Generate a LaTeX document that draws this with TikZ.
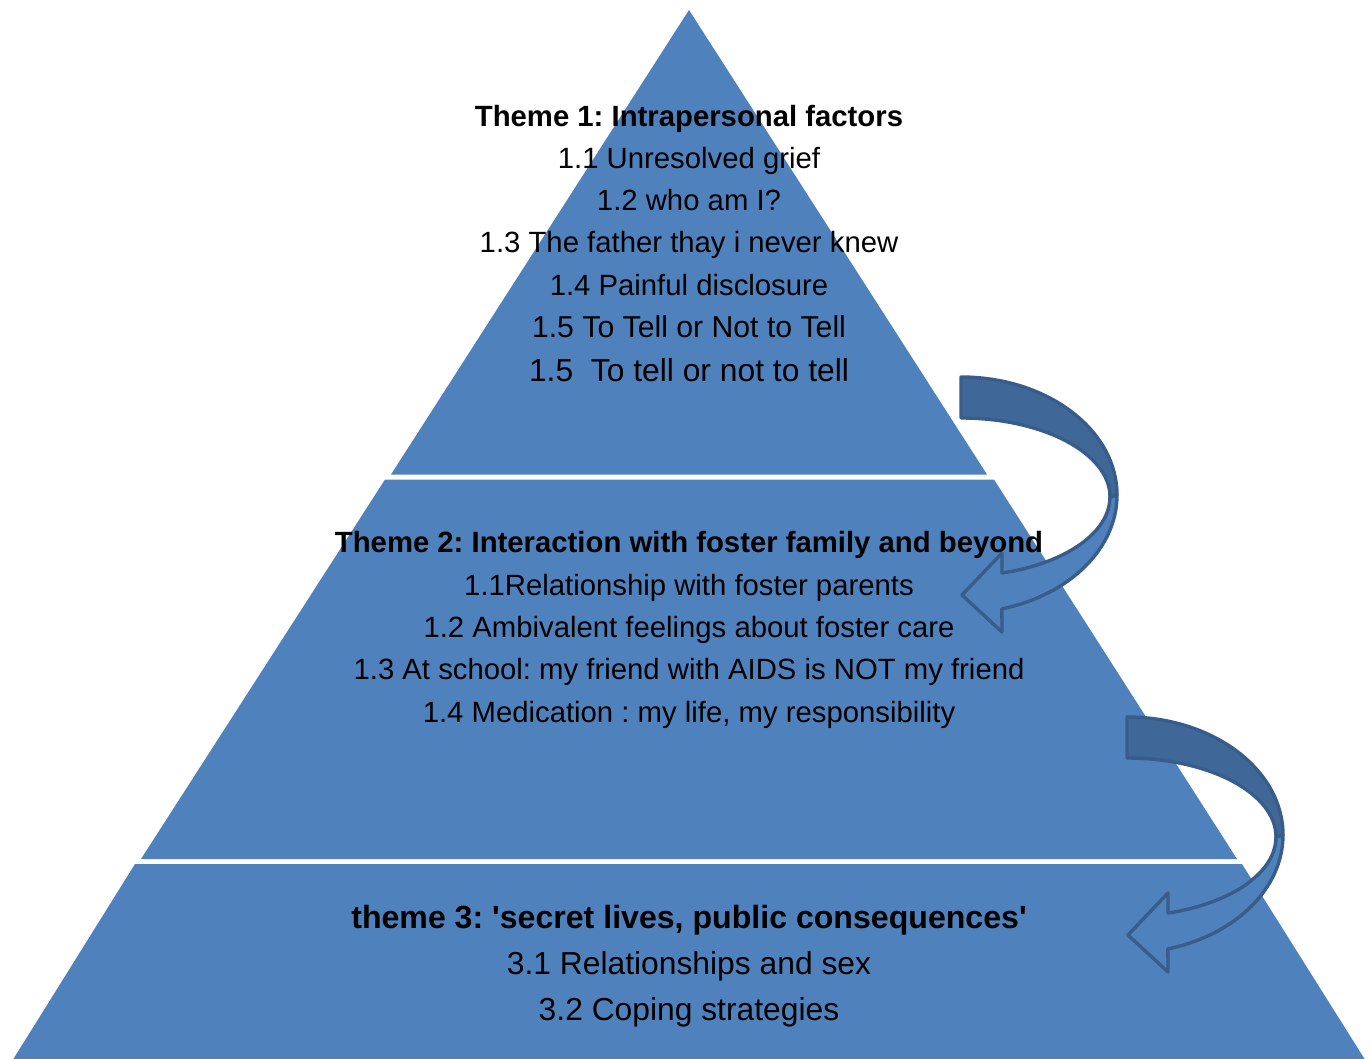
\documentclass[tikz,border=0pt]{standalone}
\usepackage{fontspec}
\setmainfont{Liberation Sans}
\frenchspacing
\definecolor{pyr}{HTML}{4F81BD}
\definecolor{arrdark}{HTML}{3F6797}
\definecolor{arrline}{HTML}{385D8A}
\begin{document}
\begin{tikzpicture}[x=0.5pt,y=-0.5pt,
  lbl/.style={anchor=base, inner sep=0pt, font=\fontsize{14.65pt}{17pt}\selectfont},
  ttl/.style={anchor=base, inner sep=0pt, font=\fontsize{14.65pt}{17pt}\selectfont\bfseries},
  lblm/.style={anchor=base, inner sep=0pt, font=\fontsize{15.1pt}{17pt}\selectfont},
  lblb/.style={anchor=base, inner sep=0pt, font=\fontsize{15.9pt}{18pt}\selectfont},
  ttlb/.style={anchor=base, inner sep=0pt, font=\fontsize{16.05pt}{18pt}\selectfont\bfseries},
  arrowface/.style={draw=arrline, line width=1.7pt, line join=round}]
\useasboundingbox (0,0) rectangle (1371,1059);
% pyramid
\fill[pyr] (689,10) -- (987,474.5) -- (391,474.5) -- cycle;
\fill[pyr] (385,479.5) -- (994,479.5) -- (1237,859) -- (141,859) -- cycle;
\fill[pyr] (135,864) -- (1242,864) -- (1369,1066) -- (9,1066) -- cycle;
% theme 1
\node[ttl] (t1) at (689,126.5) {Theme 1: Intrapersonal factors};
\node[lbl] (t1a) at (689,168.5) {1.1 Unresolved grief};
\node[lbl] (t1b) at (689,210.5) {1.2 who am I?};
\node[lbl] (t1c) at (689,253) {1.3 The father thay i never knew};
\node[lbl] (t1d) at (689,295.5) {1.4 Painful disclosure};
\node[lblm] (t1e) at (689,337.5) {1.5 To Tell or Not to Tell};
\node[lblb] (t1f) at (689,381.5) {1.5\ \ To tell or not to tell};
% theme 2
\node[ttl] (t2) at (689,552.5) {Theme 2: Interaction with foster family and beyond};
\node[lbl] (t2a) at (689,595.5) {1.1Relationship with foster parents};
\node[lbl] (t2b) at (689,637.5) {1.2 Ambivalent feelings about foster care};
\node[lbl] (t2c) at (689,679.5) {1.3 At school: my friend with AIDS is NOT my friend};
\node[lbl] (t2d) at (689,722.5) {1.4 Medication : my life, my responsibility};
% theme 3
\node[ttlb] (t3) at (689,928.5) {theme 3: \textquotesingle secret lives, public consequences\textquotesingle};
\node[lblb] (t3a) at (689,974.5) {3.1 Relationships and sex};
\node[lblb] (t3b) at (689,1020.5) {3.2 Coping strategies};
% curved arrows
\foreach \sx/\sy in {0/0,166/340}{
\begin{scope}[shift={(\sx,\sy)}]
\filldraw[arrowface, fill=arrdark] (961,377)
  arc[start angle=-90, end angle=0, x radius=156, y radius=118]
  -- (1110,497)
  arc[start angle=0, end angle=-90, x radius=149, y radius=79] -- cycle;
\filldraw[arrowface, fill=pyr] (1117,495)
  arc[start angle=0, end angle=74.8, x radius=156, y radius=118]
  -- (1002,632) -- (962,595) -- (1002,553) -- (1002,573)
  arc[start angle=74, end angle=0, x radius=149, y radius=79] -- cycle;
\end{scope}}
\end{tikzpicture}
\end{document}
